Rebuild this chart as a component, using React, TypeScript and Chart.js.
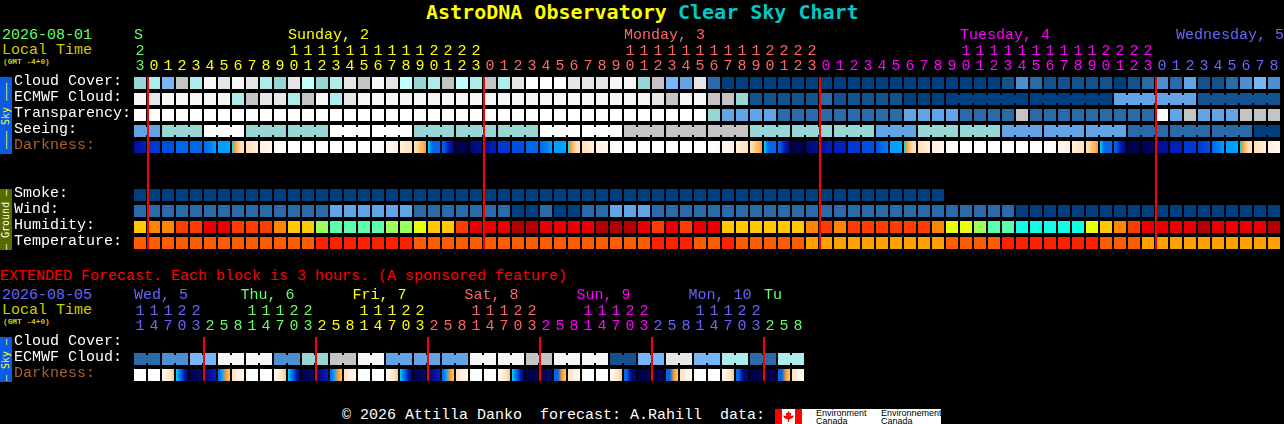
import { useEffect, useRef, type CSSProperties } from "react";
import { Chart, registerables } from "chart.js";

Chart.register(...registerables);

const MONO = '"Liberation Mono", monospace';
const TITLE_MONO = '"DejaVu Sans Mono", monospace';
const GREEN = "#66ff66";
const YELLOW = "#ffff00";
const SALMON = "#ff6666";
const MAGENTA = "#ff00ff";
const BLUE = "#6666ff";

// colour scales, index = level used in the series below
const CLOUD_SCALE = [
  "#003f7f", "#13528f", "#2a6aa8", "#4d8fd0", "#62a4e6", "#76b6f8", "#98d6d6",
  "#acecec", "#c0ffff", "#c4c4c4", "#e6e6e6", "#f6f6f6", "#ffffff",
];
const HUMIDITY_SCALE = [
  "#10ffe8", "#5cffb0", "#9cff5c", "#e8ff10", "#ffc800", "#ff8400", "#ff3c00", "#e80000", "#b40000",
];
const TEMPERATURE_SCALE = ["#ff2000", "#ff5c00", "#ffa000"];
const DARKNESS_SCALE = [
  "#000050", "#000868", "#0010a0", "#0020b8", "#0038d0", "#0050e0", "#0068e8", "#0080f0",
  "#00a0ff", "#00d8ff", "#ff9c20", "#ffc880", "#ffe0b8", "#fff0e0", "#fff8f0", "#ffffff",
];

// hourly forecast
const hourUnits = ("3" + "012345678901234567890123".repeat(3) + "012345678").split("");
const hourTens = ("2" + "          11111111112222".repeat(3) + "         ").split("");
const hourDaySpans = [1, 24, 24, 24, 9];
const hourDayColors = [GREEN, YELLOW, SALMON, MAGENTA, BLUE];
const dayLabels = ["S", "Sunday, 2", "Monday, 3", "Tuesday, 4", "Wednesday, 5"];
const dayColumns = [0, 11, 35, 59, 74.43];
const rowLabels = ["Cloud Cover:", "ECMWF Cloud:", "Transparency:", "Seeing:", "Darkness:", "", "", "Smoke:", "Wind:", "Humidity:", "Temperature:"];

const cloudCover = [
  6, 7, 5, 9, 7, 11, 10, 11, 10, 7, 6, 10, 8, 6, 7, 10, 9, 11, 10, 8, 6,
  7, 9, 8, 7, 9, 7, 10, 12, 12, 12, 10, 10, 10, 11, 11, 6, 9, 5, 4, 10,
  2, 0, 0, 0, 0, 0, 0, 0, 0, 0, 0,
  0, 0, 0, 0, 0, 0, 0, 0, 0, 0,
  1, 3, 2, 1, 1, 1, 1, 1, 0, 1, 2, 3, 2, 4, 1, 1, 2, 3, 5, 3,
];
const ecmwfCloud = [
  11, 10, 11, 11, 11, 11, 11, 7, 9, 10, 10, 7, 9, 11, 7, 10, 11, 11, 11, 11, 11,
  11, 11, 11, 11, 11, 11, 11, 11, 11, 11, 11, 11, 11, 11, 11, 11,
  10, 9, 11, 11, 9, 9, 6,
  1, 1, 1, 1, 1, 2, 1, 1,
  1, 1, 1, 0, 0, 0,
  0, 0, 0, 0, 0, 0,
  0, 0, 0, 0, 0, 0,
  4, 4, 4, 4, 4, 4,
  1, 1, 1, 1, 1, 1,
];
const transparency = [
  12, 12, 12, 12, 12, 12, 12, 12, 12, 12, 12, 12, 12, 12, 12, 12, 12, 12, 12, 12, 12,
  12, 12, 12, 12, 12, 12, 12, 12, 12, 12, 12, 12, 12, 12, 12, 12, 12, 12, 12, 12,
  6, 4, 4, 4, 4, 2, 2, 2, 2, 2, 2,
  2, 2, 2, 4, 4, 4, 4, 2, 2, 2, 2, 9,
  2, 2, 2, 2, 2, 2, 2, 2, 2, 12, 4, 9, 4, 4, 4, 9, 9, 9,
];
const seeing = [
  4, 4, 6, 6, 6, 12, 12, 12, 6, 6, 6, 6, 6, 6, 12, 12, 12, 12, 12, 12, 6,
  6, 6, 6, 6, 6, 6, 6, 6, 12, 12, 12, 12, 12, 12, 9, 9, 9, 9, 9, 9,
  9, 9, 9, 6, 6, 6, 6, 6, 6, 6, 6,
  6, 4, 4, 4, 6, 6, 6, 6, 6, 6, 4, 4, 4, 4, 4, 4, 4, 4, 4,
  2, 2, 2, 2, 2, 2, 2, 2, 2, 0, 0,
];
// a cell with several levels is a fade across that hour
const darkness: (number | number[])[] = [
  [2, 3], 4, 5, 6, 6, [6, 7, 8], 8, [9, 10, 11, 12, 12], [12, 13], [13, 14], [14, 15],
  15, 15, 15, 15, 15, 15, [15, 14], [14, 13], [13, 12], [12, 11, 10],
  [9, 6, 6, 6], [6, 5, 3, 2, 1], 0, [1, 2], [2, 3], 4, 5, 6, [6, 7, 8], 8, [9, 10, 11, 12, 12],
  [12, 13], [13, 14], [14, 15], 15, 15, 15, 15, 15, 15, [15, 14], [14, 13], [13, 12], [12, 11, 10],
  [9, 6, 6, 6], [6, 5, 3, 2, 1], 0, [1, 2], [2, 3], 3, 4,
  5, [5, 7], 8, [9, 10, 11, 12, 12], [12, 13], [13, 14], [14, 15], 15, 15, 15, 15, 15, 15,
  [15, 14], [14, 13], [13, 12], [12, 11, 10], [9, 6, 6, 6], [6, 5, 3, 2, 1], 0, [0, 1], 2, 3, 4,
  [4, 5], [6, 7, 8], 8, [9, 10, 11, 12, 12], [12, 13], [13, 14],
];
const smoke = [
  0, 0, 0, 0, 0, 0, 0, 0, 0, 0, 0, 0, 0, 0, 0, 0, 0, 0, 0, 0, 0, 0, 0, 0, 0, 0, 0, 0, 0,
  0, 0, 0, 0, 0, 0, 0, 0, 0, 0, 0, 0, 0, 0, 0, 0, 0, 0, 0, 0, 0, 0, 0, 0, 0, 0, 0, 0, 0,
];
const wind = [
  2, 2, 2, 2, 2, 2, 2, 2, 2, 2, 2, 2, 2, 2, 4, 4, 4, 4, 4, 4, 2,
  2, 2, 2, 2, 2, 2, 0, 0, 2, 0, 0, 2, 2, 4, 4, 4,
  2, 2, 2, 2, 2, 2, 2, 2, 2, 2, 2, 2, 2, 2, 2,
  2, 2, 2, 2, 2, 2, 2, 2, 2, 2, 2,
  0, 0, 0, 0, 0, 0, 0, 0, 0, 0, 0, 0, 0, 0, 0, 0, 0, 0, 0,
];
const humidity = [
  4, 5, 5, 6, 6, 7, 7, 6, 6, 6, 5, 4, 4, 2, 1, 1, 1, 1, 2, 2, 3,
  4, 4, 6, 7, 7, 7, 8, 8, 7, 7, 7, 7, 8, 8, 8, 7, 6, 7, 6, 7, 7,
  4, 4, 4, 4, 4, 4, 5, 6, 5, 6,
  6, 6, 6, 6, 6, 5, 3, 3, 2, 1, 1, 0, 0, 0, 0, 0, 3, 4, 5, 6,
  7, 7, 7, 7, 8, 7, 7, 7, 7, 8,
];
const temperature = [
  1, 1, 1, 1, 1, 1, 1, 1, 1, 1, 1, 1, 1, 0, 0, 0, 0, 0, 0, 0, 1,
  1, 1, 1, 1, 1, 1, 1, 1, 1, 1, 1, 1, 1, 1, 1, 1, 0, 0, 0, 1, 1, 0,
  1, 1, 1, 1, 1, 2, 2, 2, 2,
  2, 2, 2, 2, 2, 2, 1, 1, 1, 1, 0, 0, 0, 0, 0, 0, 0, 1, 1, 1,
  2, 2, 2, 2, 2, 2, 2, 2, 2, 2,
];
const midnightColumns = [1, 25, 49, 73];

// extended forecast, one block = 3 hours
const blockUnits = "147032581470325814703258147032581470325814703258".split("");
const blockTens = "11122   11122   11122   11122   11122   11122   ".split("");
const blockDaySpans = [5, 8, 8, 8, 8, 8, 3];
const blockDayColors = [BLUE, GREEN, YELLOW, SALMON, MAGENTA, BLUE, GREEN];
const blockDayLabels = ["Wed, 5", "Thu, 6", "Fri, 7", "Sat, 8", "Sun, 9", "Mon, 10", "Tu"];
const blockDayColumns = [0, 7.6, 15.6, 23.6, 31.6, 39.6, 45];
const blockRowLabels = ["Cloud Cover:", "ECMWF Cloud:", "Darkness:"];
const blockEcmwf = [
  2, 2, 3, 3, 5, 5, 11, 11, 11, 11, 3, 3, 6, 6, 9, 9, 11, 11, 4, 4, 4, 4, 4, 4,
  11, 11, 11, 11, 9, 9, 11, 11, 11, 11, 1, 1, 5, 5, 10, 10, 5, 5, 7, 7, 2, 2, 7, 7,
];
const blockDarkness: (number | number[])[] = [
  15, 15, [14, 13, 11], [9, 7, 5, 2, 1], [0, 1], [1, 2, 3], [6, 8, 10, 11], [12, 13, 14],
  15, 15, [14, 13, 11], [9, 7, 5, 2, 1], [0, 1], [1, 2, 3], [6, 8, 10, 11], [12, 13, 14],
  15, 15, [14, 13, 11], [9, 7, 5, 2, 1], [0, 1], [1, 2, 3], [6, 8, 10, 11], [12, 13, 14],
  15, 15, [14, 13, 11], [9, 7, 5, 2, 1], 0, [0, 1], [6, 6, 10, 11], [12, 13, 14],
  15, 15, [14, 13, 11], [6, 6, 2, 1, 1], 0, 0, [6, 6, 10, 11], [12, 13, 14],
  15, 15, [14, 13, 11], [6, 6, 2, 1, 1], 0, 0, [6, 6, 10, 11], [12, 13, 14],
];
const blockMidnights = [5, 13, 21, 29, 37, 45];

const COL = 14; // px per column
const ROW = 16; // px per row

function expand(spans: number[], colors: string[]) {
  return spans.flatMap((n, i) => Array(n).fill(colors[i]));
}

const zeroPadding = (s: any) => {
  s.paddingLeft = 0;
  s.paddingRight = 0;
  s.paddingTop = 0;
  s.paddingBottom = 0;
};

const topAxisBase = {
  position: "top" as const,
  border: { display: false },
  grid: { display: false, drawTicks: false },
  afterFit: (s: any) => {
    s.height = 15;
    zeroPadding(s);
  },
};

const tickFont = { family: MONO, size: 15 };

function cellRow(row: number, values: (number | number[])[], fill: any) {
  return {
    type: "bar" as const,
    label: "row " + row,
    data: values.map(() => [row - 6 / ROW, row + 6 / ROW]),
    backgroundColor: fill,
    barThickness: COL - 2,
    grouped: false,
    inflateAmount: 0,
    borderWidth: 0,
  };
}

// narrow link drawn across the gap between hours of one forecast block
function linkRow(row: number, values: number[], firstBlock: number, blockSize: number, start: number) {
  const data: any[] = [];
  const colors: string[] = [];
  for (let i = start; i < values.length - 1; i++) {
    if ((i + 1 - firstBlock) % blockSize === 0) continue;
    data.push({ x: i + 1, y: [row - 4 / ROW, row + 4 / ROW] });
    colors.push(CLOUD_SCALE[values[i]]);
  }
  return {
    type: "bar" as const,
    label: "links " + row,
    xAxisID: "xDay",
    data,
    backgroundColor: colors,
    barThickness: 2,
    grouped: false,
    inflateAmount: 0,
    borderWidth: 0,
  };
}

function midnightLines(columns: number[], rows: number) {
  return {
    type: "bar" as const,
    label: "midnight",
    xAxisID: "xDay",
    data: columns.map((c) => ({ x: c + 1 / COL, y: [-6 / ROW, rows - 1 + 6 / ROW] })),
    backgroundColor: "#ff0000",
    barThickness: 2,
    grouped: false,
    inflateAmount: 0,
    borderWidth: 0,
  };
}

function darknessFill(values: (number | number[])[]) {
  return (ctx: any) => {
    const v = values[ctx.dataIndex];
    if (v === undefined) return "#000000";
    if (typeof v === "number") return DARKNESS_SCALE[v];
    const x = ctx.chart.scales.x.getPixelForValue(ctx.dataIndex);
    if (!Number.isFinite(x)) return DARKNESS_SCALE[v[0]]; // scales not laid out yet
    const half = (COL - 2) / 2;
    const g = ctx.chart.ctx.createLinearGradient(x - half, 0, x + half, 0);
    v.forEach((level: number, i: number) => g.addColorStop(i / (v.length - 1), DARKNESS_SCALE[level]));
    return g;
  };
}

interface GridProps {
  top: number;
  height: number;
  paddingTop: number;
  units: string[];
  tens: string[];
  columnColors: string[];
  days: string[];
  dayAt: number[];
  dayColors: string[];
  labels: string[];
  datasets: any[];
}

function ForecastGrid({ top, height, paddingTop, units, tens, columnColors, days, dayAt, dayColors, labels, datasets }: GridProps) {
  const canvasRef = useRef<HTMLCanvasElement>(null);

  useEffect(() => {
    if (!canvasRef.current) return;
    const chart = new Chart(canvasRef.current, {
      type: "bar",
      data: { labels: units, datasets },
      options: {
        responsive: false,
        animation: false,
        devicePixelRatio: 1,
        layout: {
          padding: { left: 14, right: 1284 - 133 - units.length * COL, top: paddingTop, bottom: 0 },
        },
        plugins: { legend: { display: false }, tooltip: { enabled: false }, title: { display: false } },
        events: [],
        scales: {
          x: {
            ...topAxisBase,
            type: "category",
            weight: 0,
            ticks: {
              autoSkip: false, maxRotation: 0, minRotation: 0, padding: 0, font: tickFont,
              color: (c: any) => columnColors[c.index],
            },
          },
          xTens: {
            ...topAxisBase,
            type: "category",
            labels: tens,
            offset: true,
            weight: 1,
            ticks: {
              autoSkip: false, maxRotation: 0, minRotation: 0, padding: 0, font: tickFont,
              color: (c: any) => columnColors[c.index],
            },
          },
          xDay: {
            ...topAxisBase,
            type: "linear",
            min: 0,
            max: units.length,
            offset: false,
            weight: 2,
            // a bit taller than the digit rows: labels are clipped to the axis box
            afterFit: (s: any) => {
              s.height = 18;
              zeroPadding(s);
            },
            afterBuildTicks: (s: any) => {
              s.ticks = dayAt.map((value) => ({ value }));
            },
            ticks: {
              autoSkip: false, maxRotation: 0, minRotation: 0, padding: 1, font: tickFont,
              align: "start",
              labelOffset: 1,
              callback: (_v: any, i: number) => days[i],
              color: (c: any) => dayColors[c.index],
            },
          },
          y: {
            type: "linear",
            reverse: true,
            min: -0.5,
            max: labels.length - 0.5,
            border: { display: false },
            grid: { display: false, drawTicks: false },
            afterFit: (s: any) => {
              s.width = 119;
              zeroPadding(s);
            },
            afterBuildTicks: (s: any) => {
              s.ticks = labels.map((_, value) => ({ value }));
            },
            ticks: {
              autoSkip: false, padding: 0, font: tickFont,
              crossAlign: "far",
              labelOffset: -2,
              callback: (v: any) => labels[v],
              color: (c: any) => (labels[c.index] === "Darkness:" ? "#a8602c" : "#ffffff"),
            },
          },
        },
      } as any,
    });
    return () => chart.destroy();
  }, []);

  return <canvas ref={canvasRef} width={1284} height={height} style={{ position: "absolute", left: 0, top }} />;
}

function Text({ x, y, color, size = 15, bold, family = MONO, children }: any) {
  const style: CSSProperties = {
    position: "absolute", left: x, top: y - 10, height: 20, lineHeight: "20px",
    color, fontFamily: family, fontSize: size, fontWeight: bold ? "bold" : "normal", whiteSpace: "pre",
  };
  return <div style={style}>{children}</div>;
}

function SideStrip({ top, height, color, text, textColor }: any) {
  return (
    <div
      style={{
        position: "absolute", left: 0, top, width: 12, height, background: color, color: textColor,
        fontFamily: TITLE_MONO, fontSize: 10, lineHeight: "12px", textAlign: "center", whiteSpace: "pre",
        writingMode: "vertical-rl", transform: "rotate(180deg)",
      }}
    >
      {text}
    </div>
  );
}

function AgencyLogo() {
  const small: CSSProperties = { position: "absolute", fontFamily: '"Liberation Sans", sans-serif', fontSize: 9, lineHeight: "8px", color: "#000", whiteSpace: "pre" };
  return (
    <div style={{ position: "absolute", left: 775, top: 409, width: 166, height: 15, background: "#fff", overflow: "hidden" }}>
      <div style={{ position: "absolute", left: 0, top: 0, width: 7, height: 15, background: "#ff0000" }} />
      <div style={{ position: "absolute", left: 20, top: 0, width: 7, height: 15, background: "#ff0000" }} />
      <div
        style={{
          position: "absolute", left: 8, top: 2, width: 11, height: 11, background: "#ff0000",
          clipPath: "polygon(50% 0,62% 20%,75% 15%,70% 45%,100% 40%,90% 62%,55% 80%,55% 100%,45% 100%,45% 80%,10% 62%,0 40%,30% 45%,25% 15%,38% 20%)",
        }}
      />
      <div style={{ ...small, left: 41, top: 0 }}>Environment{"\n"}Canada</div>
      <div style={{ ...small, left: 106, top: 0 }}>Environnement{"\n"}Canada</div>
    </div>
  );
}

export default function App() {
  useEffect(() => {
    document.body.style.margin = "0";
    document.body.style.background = "#000";
  }, []);

  const hourColors = expand(hourDaySpans, hourDayColors);
  const blockColors = expand(blockDaySpans, blockDayColors);

  const hourly = [
    midnightLines(midnightColumns, rowLabels.length),
    cellRow(0, cloudCover, cloudCover.map((v) => CLOUD_SCALE[v])),
    cellRow(1, ecmwfCloud, ecmwfCloud.map((v) => CLOUD_SCALE[v])),
    linkRow(1, ecmwfCloud, 58, 6, 58),
    cellRow(2, transparency, transparency.map((v) => CLOUD_SCALE[v])),
    cellRow(3, seeing, seeing.map((v) => CLOUD_SCALE[v])),
    linkRow(3, seeing, -1, 3, 0),
    cellRow(4, darkness, darknessFill(darkness)),
    cellRow(7, smoke, smoke.map((v) => CLOUD_SCALE[v])),
    cellRow(8, wind, wind.map((v) => CLOUD_SCALE[v])),
    cellRow(9, humidity, humidity.map((v) => HUMIDITY_SCALE[v])),
    cellRow(10, temperature, temperature.map((v) => TEMPERATURE_SCALE[v])),
  ];
  const extended = [
    midnightLines(blockMidnights, blockRowLabels.length),
    cellRow(1, blockEcmwf, blockEcmwf.map((v) => CLOUD_SCALE[v])),
    linkRow(1, blockEcmwf, 0, 2, 0),
    cellRow(2, blockDarkness, darknessFill(blockDarkness)),
  ];

  return (
    <div style={{ position: "absolute", left: 0, top: 0, width: 1284, height: 424, background: "#000", overflow: "hidden" }}>
      <Text x={426} y={12} color={YELLOW} size={20} bold family={TITLE_MONO}>AstroDNA Observatory</Text>
      <Text x={678} y={12} color="#00c8c8" size={20} bold family={TITLE_MONO}>Clear Sky Chart</Text>

      <Text x={2} y={36} color={GREEN}>2026-08-01</Text>
      <Text x={2} y={51} color="#cccc00">Local Time</Text>
      <Text x={3} y={62} color="#cccc00" size={7.8} bold>(GMT -4+0)</Text>
      <SideStrip top={77} height={77} color="#0a5ce6" textColor={YELLOW} text="––– Sky –––" />
      <SideStrip top={189} height={61} color="#556b00" textColor="#ffffff" text="– Ground –" />
      <ForecastGrid
        top={0} height={251} paddingTop={27}
        units={hourUnits} tens={hourTens} columnColors={hourColors}
        days={dayLabels} dayAt={dayColumns} dayColors={hourDayColors}
        labels={rowLabels} datasets={hourly}
      />

      <Text x={0} y={277} color="#ff0000">EXTENDED Forecast. Each block is 3 hours. (A sponsored feature)</Text>
      <Text x={2} y={296} color={BLUE}>2026-08-05</Text>
      <Text x={2} y={311} color="#cccc00">Local Time</Text>
      <Text x={3} y={322} color="#cccc00" size={7.8} bold>(GMT -4+0)</Text>
      <SideStrip top={337} height={45} color="#0a5ce6" textColor={YELLOW} text="– Sky –" />
      <ForecastGrid
        top={285} height={98} paddingTop={2}
        units={blockUnits} tens={blockTens} columnColors={blockColors}
        days={blockDayLabels} dayAt={blockDayColumns} dayColors={blockDayColors}
        labels={blockRowLabels} datasets={extended}
      />

      <Text x={342} y={416} color="#ffffff">© 2026 Attilla Danko  forecast: A.Rahill  data:</Text>
      <AgencyLogo />
    </div>
  );
}
